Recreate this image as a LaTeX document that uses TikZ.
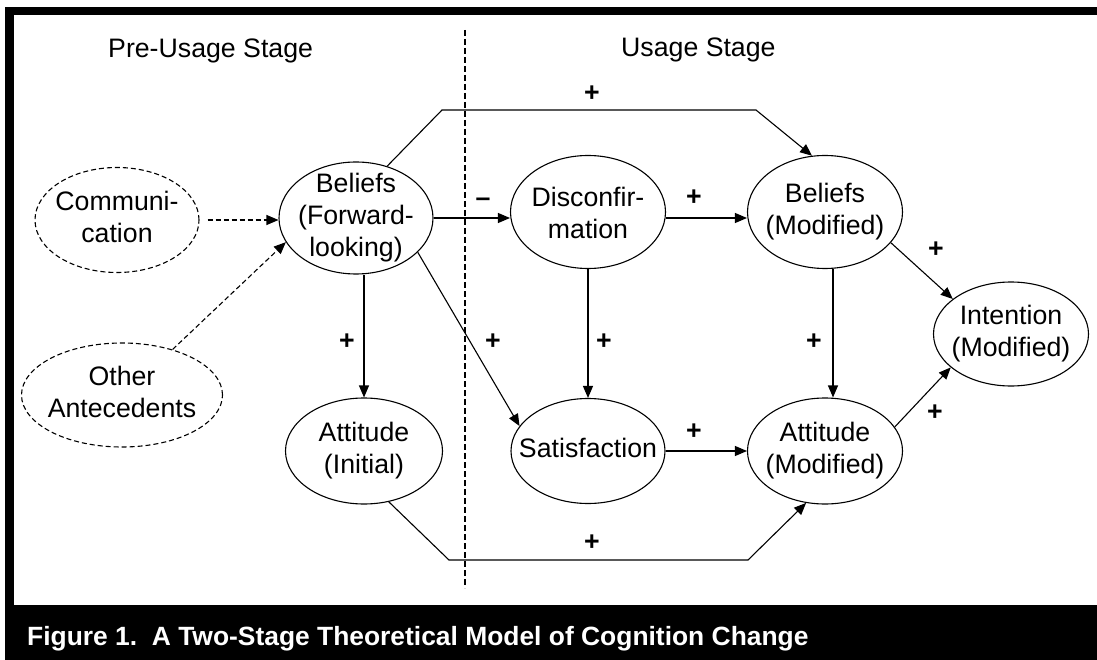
\documentclass[tikz,border=0pt]{standalone}
\usepackage{fontspec}
\setmainfont{Liberation Sans}
\usetikzlibrary{shapes.geometric,arrows.meta,calc}
\newcommand\lines[2][0pt]{\makebox[0pt]{\raisebox{\dimexpr-6.7pt+#1\relax}[0pt][0pt]{\begin{tabular}{@{}c@{}}#2\end{tabular}}}}
\begin{document}
\begin{tikzpicture}[x=1pt,y=-1pt,
  every node/.style={font=\fontsize{26.7}{32}\selectfont},
  oval/.style={ellipse,draw,line width=1.1pt,inner sep=0pt,minimum width=155pt,minimum height=110pt},
  doval/.style={oval,dash pattern=on 5pt off 3pt},
  arr/.style={line width=1.1pt,-{Triangle[length=12pt,width=10pt]}},
  darr/.style={arr,dash pattern=on 5pt off 3pt},
  divider/.style={line width=1.1pt,dash pattern=on 6pt off 3pt},
  sign/.style={font=\fontsize{26.7}{32}\selectfont\bfseries,inner sep=0pt},
  head/.style={anchor=base west,inner sep=0pt}]
\useasboundingbox (0,0) rectangle (1097,660);
\fill[white] (0,0) rectangle (1097,660);
\fill[black] (5,7) rectangle (1097,660);
\fill[white] (14,15) rectangle (1097,605);

\node[anchor=base west,inner sep=0pt,text=white,font=\fontsize{26.4}{30}\selectfont\bfseries] (cap) at (27,645) {Figure 1.~~A Two-Stage Theoretical Model of Cognition Change};

\node[head] (pre) at (108,58) {Pre-Usage Stage};
\node[head] (use) at (621,57) {Usage Stage};

\coordinate (d1) at (465,30);
\coordinate (d2) at (465,588);
\draw[divider] (d1) -- (d2);

% ellipses
\node[doval,minimum width=164pt,minimum height=105pt] (Comm) at (117,220) {\lines{Communi-\\cation}};
\node[doval,minimum width=201pt,minimum height=104pt] (Other) at (122,395) {\lines{Other\\Antecedents}};
\node[oval,minimum width=154pt,minimum height=112pt] (BFL) at (356,218) {\lines{Beliefs\\(Forward-\\looking)}};
\node[oval,minimum width=155pt,minimum height=113pt] (Disc) at (588,212) {\lines[-4pt]{Disconfir-\\mation}};
\node[oval,minimum width=155pt,minimum height=113pt] (BM) at (825,212) {\lines{Beliefs\\(Modified)}};
\node[oval,minimum width=155pt,minimum height=104pt] (Int) at (1011,334) {\lines{Intention\\(Modified)}};
\node[oval,minimum width=157pt,minimum height=106pt] (AI) at (364,451) {\lines{Attitude\\(Initial)}};
\node[oval,minimum width=154pt,minimum height=105pt] (Sat) at (588,451) {\lines{Satisfaction}};
\node[oval,minimum width=155pt,minimum height=106pt] (AM) at (825,451) {\lines{Attitude\\(Modified)}};

% bend points
\coordinate (t1) at (442,110);
\coordinate (t2) at (756,110);
\coordinate (b1) at (449,560);
\coordinate (b2) at (748,560);
\path (BM.south) ++(8,0) coordinate (bms);
\path (AM.north) ++(8,0) coordinate (amn);

% connectors
\draw[darr,shorten <=8pt] (Comm.east) -- (Comm.east -| BFL.west);
\draw[darr] (Other.42) -- (BFL.199);
\draw[arr] (BFL.east) -- (BFL.east -| Disc.west);
\draw[arr] (Disc.east |- BFL.east) -- (BM.west |- BFL.east);
\draw[arr] (AI.north |- BFL.south) -- (AI.north);
\draw[arr] (Disc.south) -- (Sat.north);
\draw[arr] (bms) -- (amn);
\draw[arr] (Sat.east) -- (AM.west);
\draw[arr] (BFL.-29) -- (Sat.160);
\draw[arr] (BM.-25) -- (Int.149);
\draw[arr] (AM.19) -- (Int.209);
\draw[arr] (BFL.59) -- (t1) -- (t2) -- (BM.103);
\draw[arr] (AI.-64) -- (b1) -- (b2) -- (AM.250);

% signs
\node[sign] (s1) at (592,94) {+};
\node[sign] (s2) at (483,202) {--};
\node[sign] (s3) at (694,198) {+};
\node[sign] (s4) at (347,342) {+};
\node[sign] (s5) at (493,342) {+};
\node[sign] (s6) at (604,342) {+};
\node[sign] (s7) at (814,342) {+};
\node[sign] (s8) at (694,432) {+};
\node[sign] (s9) at (936,250) {+};
\node[sign] (s10) at (935,413) {+};
\node[sign] (s11) at (592,543) {+};
\end{tikzpicture}
\end{document}
